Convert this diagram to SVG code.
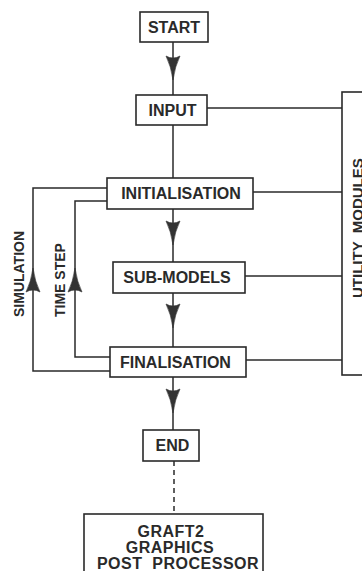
<svg xmlns="http://www.w3.org/2000/svg" xmlns:xlink="http://www.w3.org/1999/xlink" width="362" height="571" viewBox="0 0 362 571">
<style>
.box{fill:#fff;stroke:#2a2a2a;stroke-width:1.6}
.ln{fill:none;stroke:#2a2a2a;stroke-width:1.5}
.dash{fill:none;stroke:#2a2a2a;stroke-width:1.5;stroke-dasharray:5 4}
.t{font-family:"Liberation Sans",Arial,sans-serif;font-weight:bold;font-size:16px;fill:#2a2a2a;text-anchor:middle}
.s{font-family:"Liberation Sans",Arial,sans-serif;font-weight:bold;font-size:14px;fill:#2a2a2a}
.g{font-size:16px;letter-spacing:0.5px}
.ah{fill:#333;stroke:#333;stroke-width:0.6}
</style>
<defs>
<path id="ah" class="ah" d="M0,0 Q-2,-14 -7,-24 Q0,-20 7,-24 Q2,-14 0,0 Z"/>
</defs>
<rect width="362" height="571" fill="#fff"/>
<g id="connectors">
<line class="ln" x1="173" y1="42" x2="173" y2="95"/>
<line class="ln" x1="173" y1="125" x2="173" y2="178"/>
<line class="ln" x1="173" y1="209" x2="173" y2="262"/>
<line class="ln" x1="173" y1="293" x2="173" y2="347"/>
<line class="ln" x1="173" y1="377" x2="173" y2="430"/>
<line class="dash" x1="174" y1="461" x2="174" y2="514"/>
<line class="ln" x1="207" y1="108" x2="342" y2="108"/>
<line class="ln" x1="253" y1="192" x2="342" y2="192"/>
<line class="ln" x1="245" y1="276" x2="342" y2="276"/>
<line class="ln" x1="246" y1="360" x2="342" y2="360"/>
<polyline class="ln" points="107,188 33,188 33,371 110,371"/>
<polyline class="ln" points="107,201 75,201 75,357 110,357"/>
<use xlink:href="#ah" transform="translate(173,80)"/>
<use xlink:href="#ah" transform="translate(173,245)"/>
<use xlink:href="#ah" transform="translate(173,328)"/>
<use xlink:href="#ah" transform="translate(173,413)"/>
<use xlink:href="#ah" transform="translate(33,268) rotate(180)"/>
<use xlink:href="#ah" transform="translate(75,268) rotate(180)"/>
<text class="s" transform="translate(24,317) rotate(-90)">SIMULATION</text>
<text class="s" transform="translate(65,317) rotate(-90)">TIME STEP</text>
</g>
<g id="start"><rect class="box" x="140" y="12" width="68" height="30"/><text class="t" x="174" y="33">START</text></g>
<g id="input"><rect class="box" x="136" y="95" width="71" height="30"/><text class="t" x="172.5" y="116">INPUT</text></g>
<g id="initialisation"><rect class="box" x="107" y="178" width="146" height="31"/><text class="t" x="181" y="199">INITIALISATION</text></g>
<g id="submodels"><rect class="box" x="113" y="262" width="132" height="31"/><text class="t" x="177" y="283">SUB-MODELS</text></g>
<g id="finalisation"><rect class="box" x="110" y="347" width="136" height="30"/><text class="t" x="175.5" y="368">FINALISATION</text></g>
<g id="end"><rect class="box" x="143" y="430" width="56" height="31"/><text class="t" x="172.5" y="451">END</text></g>
<g id="utility"><rect class="box" x="342" y="92" width="40" height="283"/><text class="t" style="font-size:15px;text-anchor:start" transform="translate(363,298) rotate(-90)" xml:space="preserve">UTILITY  MODULES</text></g>
<g id="graft2"><rect class="box" x="84" y="514" width="179" height="70"/>
<text class="t g" x="171" y="537">GRAFT2</text>
<text class="t g" x="170" y="553">GRAPHICS</text>
<text class="t g" x="178" y="569" xml:space="preserve">POST  PROCESSOR</text></g>
</svg>
